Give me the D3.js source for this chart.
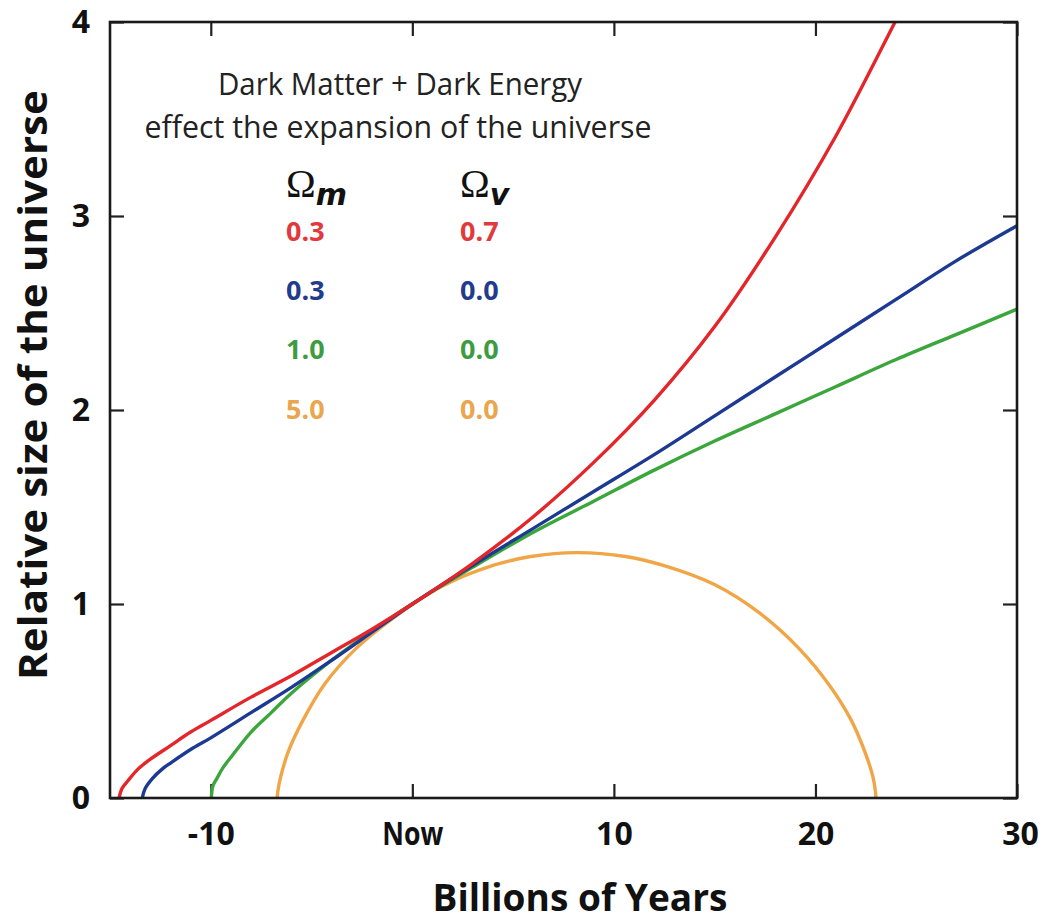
<!DOCTYPE html>
<html>
<head>
<meta charset="utf-8">
<script src="https://cdn.jsdelivr.net/npm/d3@7"></script>
<style>
  html, body { margin: 0; padding: 0; background: #fff; }
  svg { display: block; }
</style>
</head>
<body>
<svg id="chart" width="1047" height="922"></svg>
<script>
// ---------- DATA ----------
const xTicks = [-10, 0, 10, 20, 30];
const xTickLabels = ["-10", "Now", "10", "20", "30"];
const yTicks = [0, 1, 2, 3, 4];
const yTickLabels = ["0", "1", "2", "3", "4"];

const seriesNames = ["red", "blue", "green", "orange"];
const omegaM = ["0.3", "0.3", "1.0", "5.0"];
const omegaV = ["0.7", "0.0", "0.0", "0.0"];

// Omega_m = 0.3, Omega_v = 0.7
const redX = [-14.55, -14.4, -14.1, -13.6, -13, -12, -11, -10, -8, -6, -4, -2, 0, 3, 6, 9, 12, 15, 18, 21, 24, 24.5];
const redY = [0, 0.05, 0.09, 0.15, 0.20, 0.27, 0.34, 0.40, 0.52, 0.63, 0.75, 0.87, 1.0, 1.21, 1.45, 1.73, 2.05, 2.43, 2.89, 3.41, 4.01, 4.11];

// Omega_m = 0.3, Omega_v = 0.0
const blueX = [-13.4, -13.25, -12.9, -12.4, -12, -11, -10, -8, -6, -4, -2, 0, 3, 6, 9, 12, 15, 18, 21, 24, 27, 30];
const blueY = [0, 0.05, 0.10, 0.15, 0.18, 0.25, 0.31, 0.44, 0.57, 0.71, 0.855, 1.0, 1.20, 1.39, 1.58, 1.77, 1.97, 2.17, 2.37, 2.57, 2.77, 2.95];

// Omega_m = 1.0, Omega_v = 0.0
const greenX = [-9.97, -9.9, -9.7, -9.4, -9, -8, -7, -6, -4, -2, 0, 3, 6, 9, 12, 15, 18, 21, 24, 27, 30];
const greenY = [0, 0.06, 0.10, 0.155, 0.21, 0.34, 0.44, 0.54, 0.71, 0.86, 1.0, 1.19, 1.37, 1.53, 1.69, 1.84, 1.98, 2.12, 2.26, 2.39, 2.52];

// Omega_m = 5.0, Omega_v = 0.0
const orangeX = [-6.7, -6.68, -6.53, -6.15, -5.43, -4.33, -2.80, -0.85, 1.45, 4.04, 5.88, 8.15, 10.58, 12.41, 14.99, 17.27, 19.19, 20.70, 21.78, 22.48, 22.85, 22.98, 23.0];
const orangeY = [0, 0.03, 0.11, 0.24, 0.40, 0.59, 0.77, 0.935, 1.09, 1.20, 1.245, 1.265, 1.245, 1.20, 1.10, 0.95, 0.77, 0.58, 0.40, 0.23, 0.11, 0.03, 0];

// ---------- STYLE / LAYOUT ----------
const lineColors = { red: "#e4262b", blue: "#1d3a92", green: "#3aa63c", orange: "#f0a646" };
const textColors = { red: "#e2393c", blue: "#223b8a", green: "#3d9b42", orange: "#e9a64e" };
const sansBold = "'Open Sans', 'DejaVu Sans', sans-serif";

const svg = d3.select("#chart");
const L = 110, R = 1017, T = 22, B = 798;

const x = d3.scaleLinear().domain([-15, 30]).range([L, R]);
const y = d3.scaleLinear().domain([0, 4]).range([B, T]);

svg.append("defs").append("clipPath").attr("id", "plotclip")
  .append("rect").attr("x", L).attr("y", T).attr("width", R - L).attr("height", B - T);

// ---------- AXES (inward ticks on all four sides) ----------
const tickLen = 14;
const fmtX = d => xTickLabels[xTicks.indexOf(d)];
const fmtY = d => yTickLabels[yTicks.indexOf(d)];

const gBottom = svg.append("g").attr("transform", `translate(0,${B})`)
  .call(d3.axisBottom(x).tickValues(xTicks).tickFormat(fmtX).tickSizeInner(-tickLen).tickSizeOuter(0).tickPadding(24));
const gTop = svg.append("g").attr("transform", `translate(0,${T})`)
  .call(d3.axisTop(x).tickValues(xTicks).tickFormat("").tickSizeInner(-tickLen).tickSizeOuter(0));
const gLeft = svg.append("g").attr("transform", `translate(${L},0)`)
  .call(d3.axisLeft(y).tickValues(yTicks).tickFormat(fmtY).tickSizeInner(-tickLen).tickSizeOuter(0).tickPadding(20));
const gRight = svg.append("g").attr("transform", `translate(${R},0)`)
  .call(d3.axisRight(y).tickValues(yTicks).tickFormat("").tickSizeInner(-tickLen).tickSizeOuter(0));

[gBottom, gTop, gLeft, gRight].forEach(g => {
  g.select(".domain").remove();
  g.selectAll(".tick line").attr("stroke", "#222").attr("stroke-width", 2.2);
});
[gBottom, gLeft].forEach(g => {
  g.selectAll(".tick text")
    .attr("fill", "#111")
    .style("font-family", sansBold)
    .style("font-weight", "700")
    .style("font-size", "32px");
});
gBottom.selectAll(".tick text").filter(d => d === 0)
  .attr("textLength", 61).attr("lengthAdjust", "spacingAndGlyphs");
gBottom.selectAll(".tick text").filter(d => d === 30).attr("dx", 3);

// ---------- CURVES ----------
const line = d3.line().x(d => x(d[0])).y(d => y(d[1])).curve(d3.curveCatmullRom.alpha(0.5));
const seriesData = {
  red: d3.zip(redX, redY),
  blue: d3.zip(blueX, blueY),
  green: d3.zip(greenX, greenY),
  orange: d3.zip(orangeX, orangeY)
};
const gLines = svg.append("g").attr("clip-path", "url(#plotclip)");
["orange", "green", "blue", "red"].forEach(name => {
  gLines.append("path")
    .datum(seriesData[name])
    .attr("d", line)
    .attr("fill", "none")
    .attr("stroke", lineColors[name])
    .attr("stroke-width", 3.4)
    .attr("stroke-linejoin", "round")
    .attr("stroke-linecap", "round");
});

// ---------- FRAME ----------
svg.append("rect")
  .attr("x", L).attr("y", T).attr("width", R - L).attr("height", B - T)
  .attr("fill", "none").attr("stroke", "#1a1a1a").attr("stroke-width", 2.6);

// ---------- AXIS TITLES ----------
svg.append("text")
  .attr("x", 580).attr("y", 911)
  .attr("text-anchor", "middle")
  .attr("textLength", 295).attr("lengthAdjust", "spacingAndGlyphs")
  .style("font-family", sansBold).style("font-weight", "700").style("font-size", "38px")
  .attr("fill", "#111")
  .text("Billions of Years");

svg.append("text")
  .attr("transform", "translate(47,385) rotate(-90)")
  .attr("text-anchor", "middle")
  .attr("textLength", 590).attr("lengthAdjust", "spacingAndGlyphs")
  .style("font-family", sansBold).style("font-weight", "700").style("font-size", "40px")
  .attr("fill", "#111")
  .text("Relative size of the universe");

// ---------- ANNOTATION ----------
const noteFont = "'Open Sans', 'DejaVu Sans', sans-serif";
svg.append("text")
  .attr("x", 400).attr("y", 95).attr("text-anchor", "middle")
  .attr("textLength", 364).attr("lengthAdjust", "spacingAndGlyphs")
  .style("font-family", noteFont).style("font-size", "31px")
  .attr("fill", "#222")
  .text("Dark Matter + Dark Energy");
svg.append("text")
  .attr("x", 398).attr("y", 138).attr("text-anchor", "middle")
  .attr("textLength", 507).attr("lengthAdjust", "spacingAndGlyphs")
  .style("font-family", noteFont).style("font-size", "31px")
  .attr("fill", "#222")
  .text("effect the expansion of the universe");

// Omega headers
const serif = "'Liberation Serif', 'DejaVu Serif', serif";
const colM = 286, colV = 460;
[[colM, "m"], [colV, "v"]].forEach(([cx, sub]) => {
  const t = svg.append("text").attr("x", cx).attr("y", 197)
    .attr("fill", "#111").style("font-family", serif).style("font-size", "40px");
  t.append("tspan").text("Ω");
  t.append("tspan").attr("dy", 8).style("font-size", "30px").style("font-style", "italic")
    .style("font-family", "'DejaVu Sans', sans-serif").style("font-weight", "700").text(sub);
});

// Legend values
const rowBase = [241, 300, 359, 419];
seriesNames.forEach((name, i) => {
  svg.append("text").attr("x", colM).attr("y", rowBase[i])
    .attr("fill", textColors[name])
    .style("font-family", sansBold).style("font-weight", "700").style("font-size", "27px")
    .text(omegaM[i]);
  svg.append("text").attr("x", colV).attr("y", rowBase[i])
    .attr("fill", textColors[name])
    .style("font-family", sansBold).style("font-weight", "700").style("font-size", "27px")
    .text(omegaV[i]);
});
</script>
</body>
</html>
